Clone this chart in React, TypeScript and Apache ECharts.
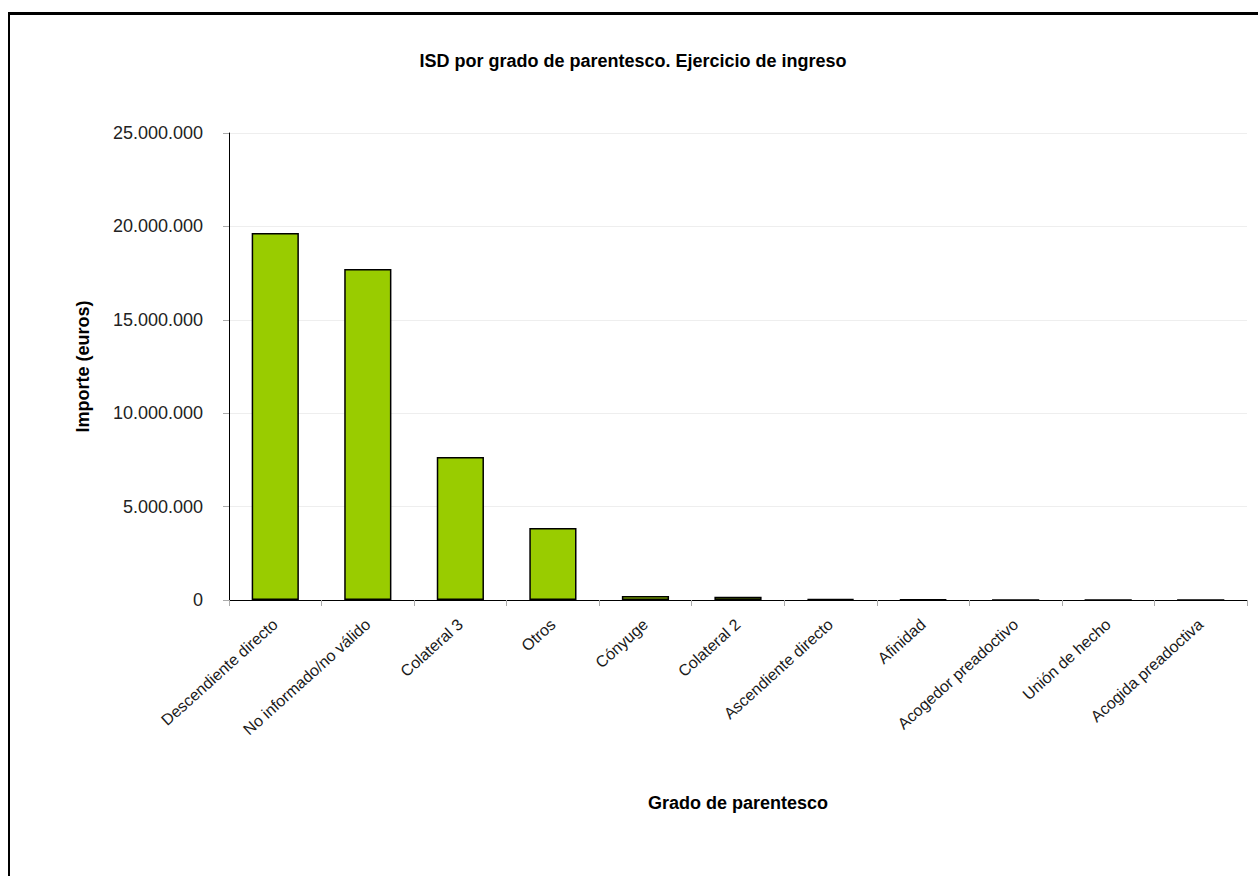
import React, { useEffect, useRef } from "react";
import * as echarts from "echarts";

const categories = [
  "Descendiente directo",
  "No informado/no válido",
  "Colateral 3",
  "Otros",
  "Cónyuge",
  "Colateral 2",
  "Ascendiente directo",
  "Afinidad",
  "Acogedor preadoctivo",
  "Unión de hecho",
  "Acogida preadoctiva",
];
const values = [19650000, 17720000, 7660000, 3850000, 210000, 170000, 50000, 30000, 0, 0, 0];
const yTicks = [0, 5000000, 10000000, 15000000, 20000000, 25000000];

const fmt = (v: number) => String(Math.round(v)).replace(/\B(?=(\d{3})+(?!\d))/g, ".");

const FONT = "'Liberation Sans', Arial, sans-serif";

export default function App() {
  const ref = useRef<HTMLDivElement>(null);
  useEffect(() => {
    if (!ref.current) return;
    const chart = echarts.init(ref.current, null, { renderer: "svg" });
    chart.setOption({
      animation: false,
      backgroundColor: "transparent",
      title: {
        text: "ISD por grado de parentesco. Ejercicio de ingreso",
        left: "center",
        top: 35,
        textStyle: {
          fontFamily: "'Liberation Sans Narrow', 'Arial Narrow', " + FONT,
          fontWeight: "bold",
          fontSize: 18,
          color: "#000",
        },
      },
      grid: { left: 221, right: 11, top: 121, bottom: 276, containLabel: false },
      xAxis: {
        type: "category",
        data: categories,
        name: "Grado de parentesco",
        nameLocation: "middle",
        nameGap: 194,
        nameTextStyle: {
          fontFamily: FONT,
          fontWeight: "bold",
          fontSize: 18,
          color: "#000",
        },
        axisLine: { lineStyle: { color: "#000", width: 1 } },
        axisTick: { show: true, alignWithLabel: false, length: 6, lineStyle: { color: "#aaa" } },
        axisLabel: {
          rotate: 42,
          interval: 0,
          margin: 22,
          fontFamily: FONT,
          fontSize: 16,
          color: "#1a1a1a",
        },
      },
      yAxis: {
        type: "value",
        min: 0,
        max: 25000000,
        interval: 5000000,
        name: "Importe (euros)",
        nameLocation: "middle",
        nameGap: 137,
        nameRotate: 90,
        nameTextStyle: {
          fontFamily: FONT,
          fontWeight: "bold",
          fontSize: 18,
          color: "#000",
        },
        axisLine: { show: true, lineStyle: { color: "#000", width: 1 } },
        axisTick: { show: true, length: 6, lineStyle: { color: "#aaa" } },
        axisLabel: {
          margin: 26,
          fontFamily: FONT,
          fontSize: 18,
          color: "#222",
          formatter: (v: number) => (yTicks.includes(v) ? fmt(v) : ""),
        },
        splitLine: { show: true, lineStyle: { color: "#eeeeee", width: 1 } },
      },
      series: [
        {
          type: "bar",
          data: values,
          barWidth: "51%",
          itemStyle: { color: "#99cc00", borderColor: "#000", borderWidth: 1.5 },
        },
      ],
    });
    return () => chart.dispose();
  }, []);
  return (
    <div
      style={{
        position: "fixed",
        left: 8,
        top: 12,
        width: 1250,
        height: 864,
        boxSizing: "border-box",
        borderTop: "3px solid #000",
        borderLeft: "2px solid #000",
        background: "#fff",
      }}
    >
      <div ref={ref} style={{ position: "absolute", left: -2, top: -3, width: 1250, height: 864 }} />
    </div>
  );
}
